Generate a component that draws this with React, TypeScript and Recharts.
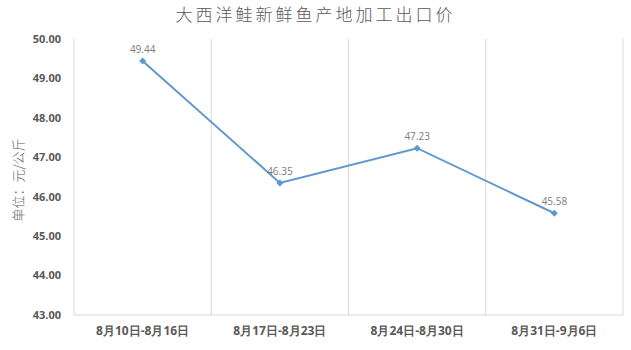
import React from 'react'
import { LineChart, Line, XAxis, YAxis, CartesianGrid, LabelList } from 'recharts'

// weekly export price, yuan per kg
const weeks = ['8月10日-8月16日', '8月17日-8月23日', '8月24日-8月30日', '8月31日-9月6日']
const prices = [49.44, 46.35, 47.23, 45.58]
const yTicks = [43, 44, 45, 46, 47, 48, 49, 50]

const data = weeks.map((week, i) => ({ week, price: prices[i] }))

const W = 631
const H = 350
const LINE = '#5f97cf'
const TEXT = '#595959'
const TICK_STYLE = { fill: TEXT, fontSize: 12, fontWeight: 700, fontFamily: '"Open Sans", sans-serif' }
const Y_TICK_STYLE = { ...TICK_STYLE, fontSize: 11 }

function Diamond(props: any) {
  const { cx, cy } = props
  if (cx == null || cy == null) return null
  const r = 3.5
  return <polygon points={`${cx},${cy - r} ${cx + r},${cy} ${cx},${cy + r} ${cx - r},${cy}`} fill={LINE} />
}

// grid lines sit on the category band edges rather than the centres
function bandEdges({ offset }: any) {
  const step = offset.width / weeks.length
  return weeks.map((_, i) => offset.left + step * i).concat(offset.left + offset.width)
}

export default function App() {
  return (
    <div style={{ position: 'absolute', left: 0, top: 0, width: W, height: H, background: '#fff' }}>
      <div
        style={{
          position: 'absolute', left: 0, top: 3, width: W, textAlign: 'center',
          fontFamily: '"Noto Sans CJK SC", sans-serif', fontSize: 17, letterSpacing: 3,
          fontWeight: 300, color: TEXT, lineHeight: '22px',
        }}
      >
        大西洋鲑新鲜鱼产地加工出口价
      </div>
      <div
        style={{
          position: 'absolute', left: 17, top: 180, transform: 'translate(-50%, -50%) rotate(-90deg)',
          whiteSpace: 'nowrap', fontFamily: '"Noto Sans CJK SC", sans-serif', fontSize: 13,
          fontWeight: 300, color: TEXT, lineHeight: '15px',
        }}
      >
        单位：元/公斤
      </div>
      <LineChart width={W} height={H} data={data} margin={{ top: 39, right: 8, left: 0, bottom: 0 }}>
        <CartesianGrid
          horizontal={false}
          stroke="#d9d9d9"
          verticalCoordinatesGenerator={bandEdges}
        />
        <XAxis
          dataKey="week"
          scale="band"
          height={35}
          tick={TICK_STYLE}
          tickLine={false}
          tickSize={0}
          tickMargin={11}
          axisLine={{ stroke: '#d9d9d9' }}
        />
        <YAxis
          domain={[43, 50]}
          ticks={yTicks}
          width={74}
          tick={Y_TICK_STYLE}
          tickFormatter={(v: number) => v.toFixed(2)}
          tickLine={false}
          tickSize={0}
          tickMargin={13}
          axisLine={false}
          interval={0}
        />
        <Line
          type="linear"
          dataKey="price"
          stroke={LINE}
          strokeWidth={2}
          dot={<Diamond />}
          activeDot={false}
          isAnimationActive={false}
        >
          <LabelList
            dataKey="price"
            position="top"
            offset={8}
            formatter={(v: number) => v.toFixed(2)}
            style={{ fill: '#7a7a7a', fontSize: 10, fontFamily: '"Open Sans", sans-serif' }}
          />
        </Line>
      </LineChart>
    </div>
  )
}
